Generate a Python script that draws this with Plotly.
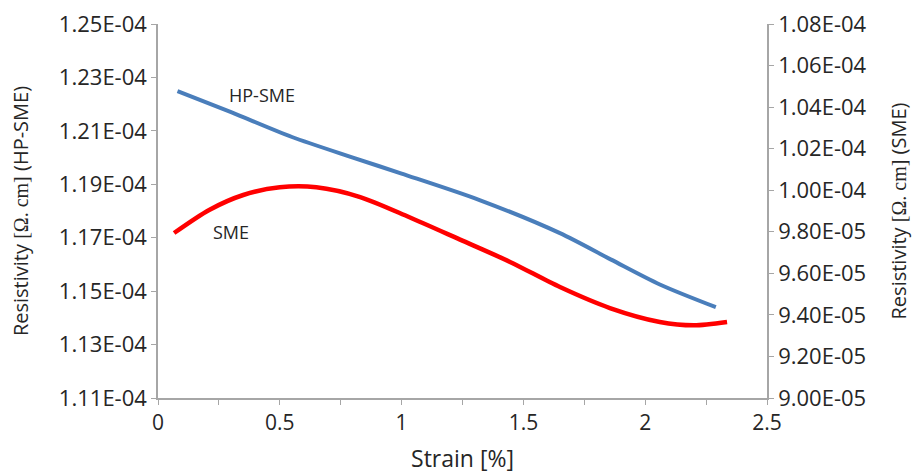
import plotly.graph_objects as go

# HP-SME (left axis)
hp_strain = [0.08, 0.30, 0.55, 0.80, 1.00, 1.32, 1.65, 1.86, 2.06, 2.29]
hp_res = [1.2249e-4, 1.2170e-4, 1.2077e-4, 1.2000e-4, 1.1940e-4, 1.1841e-4,
          1.1717e-4, 1.1618e-4, 1.1525e-4, 1.1440e-4]

# SME (right axis)
sme_strain = [0.066, 0.21, 0.35, 0.50, 0.65, 0.83, 1.03, 1.24, 1.445, 1.65, 1.855, 2.06, 2.20, 2.336]
sme_res = [9.794e-5, 9.905e-5, 9.977e-5, 1.0014e-4, 1.0014e-4, 9.967e-5, 9.871e-5, 9.762e-5,
           9.655e-5, 9.534e-5, 9.433e-5, 9.366e-5, 9.350e-5, 9.366e-5]

left_ticks = [1.11e-4, 1.13e-4, 1.15e-4, 1.17e-4, 1.19e-4, 1.21e-4, 1.23e-4, 1.25e-4]
left_labels = ["1.11E-04", "1.13E-04", "1.15E-04", "1.17E-04", "1.19E-04", "1.21E-04", "1.23E-04", "1.25E-04"]
right_ticks = [9.0e-5, 9.2e-5, 9.4e-5, 9.6e-5, 9.8e-5, 1.0e-4, 1.02e-4, 1.04e-4, 1.06e-4, 1.08e-4]
right_labels = ["9.00E-05", "9.20E-05", "9.40E-05", "9.60E-05", "9.80E-05", "1.00E-04",
                "1.02E-04", "1.04E-04", "1.06E-04", "1.08E-04"]
x_ticks = [0, 0.5, 1, 1.5, 2, 2.5]
x_labels = ["0", "0.5", "1", "1.5", "2", "2.5"]

FONT = "Open Sans"
AX = "#a6a6a6"
TXT = "#262626"

fig = go.Figure()
fig.add_trace(go.Scatter(x=hp_strain, y=hp_res, mode="lines",
                         line=dict(color="#4a7ebb", width=4, shape="spline", smoothing=0.8),
                         name="HP-SME", yaxis="y"))
fig.add_trace(go.Scatter(x=sme_strain, y=sme_res, mode="lines",
                         line=dict(color="#ff0000", width=4.5, shape="spline", smoothing=0.8),
                         name="SME", yaxis="y2"))

fig.add_annotation(x=0.427, y=1.2234e-4, xref="x", yref="y", text="HP-SME", showarrow=False,
                   font=dict(family=FONT, size=18, color=TXT))
fig.add_annotation(x=0.30, y=9.8e-5, xref="x", yref="y2", text="SME", showarrow=False,
                   font=dict(family=FONT, size=18, color=TXT))

serif = "<span style='font-family:Liberation Serif'>[Ω. cm]</span>"

fig.update_layout(
    width=917, height=474,
    margin=dict(l=158, r=150, t=24, b=76),
    paper_bgcolor="white", plot_bgcolor="white",
    showlegend=False,
    font=dict(family=FONT, size=20, color=TXT),
    xaxis=dict(range=[0, 2.5], tickvals=x_ticks, ticktext=x_labels, showgrid=False, zeroline=False,
               showline=True, linecolor=AX, linewidth=1.5, ticks="outside", ticklen=5, tickcolor=AX,
               minor=dict(dtick=0.25, tick0=0, ticks="outside", ticklen=5, tickcolor=AX),
               automargin=False,
               title=dict(text="Strain [%]", standoff=24, font=dict(size=23)), tickfont=dict(size=21)),
    yaxis=dict(range=[1.11e-4, 1.25e-4], tickvals=left_ticks, ticktext=left_labels, showgrid=False,
               zeroline=False, showline=True, linecolor=AX, linewidth=1.5, ticks="outside", ticklen=5,
               tickcolor=AX, tickfont=dict(size=22), automargin=False,
               title=dict(text="Resistivity " + serif + " (HP-SME)", standoff=25, font=dict(size=20))),
    yaxis2=dict(range=[9.0e-5, 1.08e-4], tickvals=right_ticks, ticktext=right_labels, overlaying="y",
                side="right", showgrid=False, zeroline=False, showline=True, linecolor=AX, linewidth=1.5,
                ticks="outside", ticklen=5, tickcolor=AX, tickfont=dict(size=22), automargin=False,
                title=dict(text="Resistivity " + serif + " (SME)", standoff=26, font=dict(size=20))),
)

fig.write_html("out.html")
